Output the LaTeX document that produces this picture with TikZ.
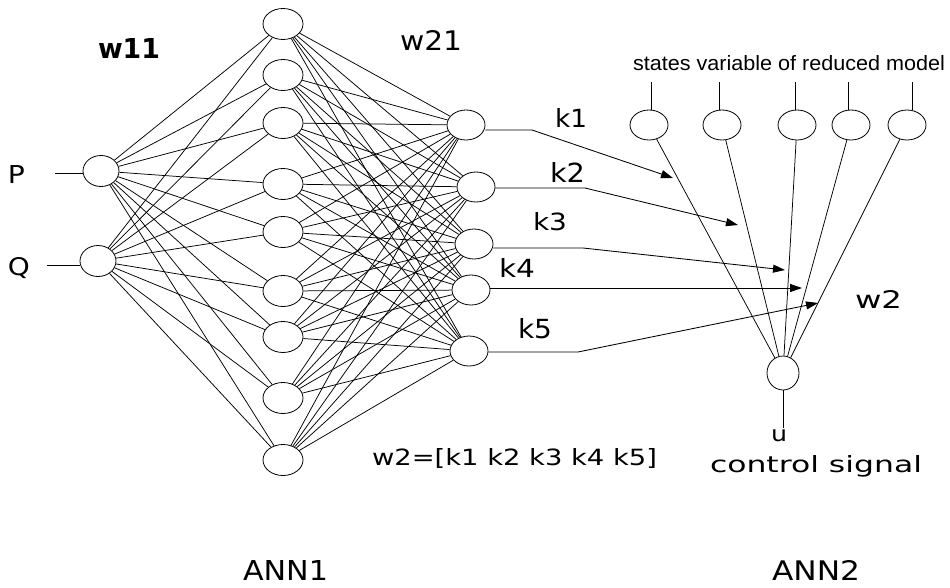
\documentclass[tikz,border=0pt]{standalone}
\usepackage{fontspec}
\setmainfont{DejaVu Sans}
\newfontfamily\arialf{Liberation Sans}
\usetikzlibrary{shapes.geometric,arrows.meta}
\newcommand{\rtxt}[3]{\resizebox{#1pt}{#2pt}{#3}}
\tikzset{
  neuron/.style={draw, ellipse, inner sep=0pt, line width=0.8pt, fill=white},
  inn/.style={neuron, minimum width=36pt, minimum height=31pt},
  hid/.style={neuron, minimum width=40pt, minimum height=31pt},
  outn/.style={neuron, minimum width=38pt, minimum height=30pt},
  sn/.style={neuron, minimum width=38pt, minimum height=30pt},
  un/.style={neuron, minimum width=32pt, minimum height=34pt},
  conn/.style={line width=0.75pt},
  lbl/.style={anchor=base west, inner sep=0pt, outer sep=0pt},
  karrow/.style={line width=0.85pt, -{Triangle[length=12pt,width=8pt]}}
}
\begin{document}
\begin{tikzpicture}[x=1pt,y=-1pt]
\useasboundingbox (0,0) rectangle (950,587);
% input nodes
\node[inn] (p) at (101,171) {};
\node[inn] (q) at (98,261) {};
% hidden nodes
\foreach \i/\y in {1/24,2/75,3/123,4/184,5/232,6/291,7/337,8/398,9/460}{
  \node[hid] (h\i) at (283,\y) {};
}
% ANN1 outputs
\node[outn] (o1) at (466,125) {};
\node[outn] (o2) at (476,187) {};
\node[outn] (o3) at (474,244) {};
\node[outn] (o4) at (471,290) {};
\node[outn] (o5) at (469,351) {};
% connections
\foreach \a in {p,q}{
  \foreach \i in {1,...,9}{
    \draw[conn] (\a) -- (h\i);
  }
}
\foreach \i in {1,...,9}{
  \foreach \k in {1,...,5}{
    \draw[conn] (h\i) -- (o\k);
  }
}
% input lines
\coordinate (pin) at (55,173);
\coordinate (qin) at (47,265);
\draw[conn] (pin) -- (p.west|-pin);
\draw[conn] (qin) -- (q.west|-qin);
% ANN2
\node[sn] (s1) at (649,125) {};
\node[sn] (s2) at (722,125) {};
\node[sn] (s3) at (797,125) {};
\node[sn] (s4) at (851,125) {};
\node[sn] (s5) at (907,125) {};
\node[un] (u0) at (783,373) {};
\foreach \i/\x in {1/651,2/719,3/795,4/848,5/912}{
  \coordinate (st\i) at (\x,82);
  \draw[conn] (st\i) -- (st\i|-s\i.north);
  \draw[conn] (s\i) -- (u0);
}
\coordinate (uend) at (783,428);
\draw[conn] (u0) -- (uend);
% k arrows
\coordinate (b1) at (532,130); \coordinate (t1) at (673,178);
\coordinate (b2) at (585,188); \coordinate (t2) at (738,225);
\coordinate (b3) at (583,248); \coordinate (t3) at (785,270);
\coordinate (t4) at (802,288);
\coordinate (b5) at (578,352); \coordinate (t5) at (818,303);
\draw[karrow] (o1.east|-b1) -- (b1) -- (t1);
\draw[karrow] (o2.east|-b2) -- (b2) -- (t2);
\draw[karrow] (o3.east|-b3) -- (b3) -- (t3);
\draw[karrow] (o4.east|-t4) -- (t4);
\draw[karrow] (o5.east|-b5) -- (b5) -- (t5);
% labels
\node[lbl] (tP) at (8,183) {\rtxt{17}{18}{P}};
\node[lbl] (tQ) at (8,275) {\rtxt{22}{18}{Q}};
\node[lbl] (tw11) at (98,58) {\rtxt{62}{20}{\bfseries w11}};
\node[lbl] (tw21) at (400,50) {\rtxt{62}{20}{w21}};
\node[lbl] (tk1) at (555,127) {\rtxt{32}{19}{k1}};
\node[lbl] (tk2) at (550,182) {\rtxt{35}{20}{k2}};
\node[lbl] (tk3) at (533,230) {\rtxt{34}{18}{k3}};
\node[lbl] (tk4) at (499,277) {\rtxt{36}{19}{k4}};
\node[lbl] (tk5) at (518,338) {\rtxt{34}{20}{k5}};
\node[lbl] (tw2) at (855,308) {\rtxt{47}{18}{w2}};
\node[lbl] (tst) at (633,70) {\rtxt{312}{15}{\arialf states variable of reduced model}};
\node[lbl] (tu) at (771,441) {\rtxt{16}{12}{u}};
\node[lbl] (tcs) at (710,472) {\rtxt{212}{17}{control signal}};
\node[lbl] (tw2k) at (372,465) {\rtxt{285}{17}{w2=[k1 k2 k3 k4 k5]}};
\node[lbl] (tA1) at (243,580) {\rtxt{85}{20}{ANN1}};
\node[lbl] (tA2) at (772,580) {\rtxt{88}{20}{ANN2}};
\end{tikzpicture}
\end{document}
